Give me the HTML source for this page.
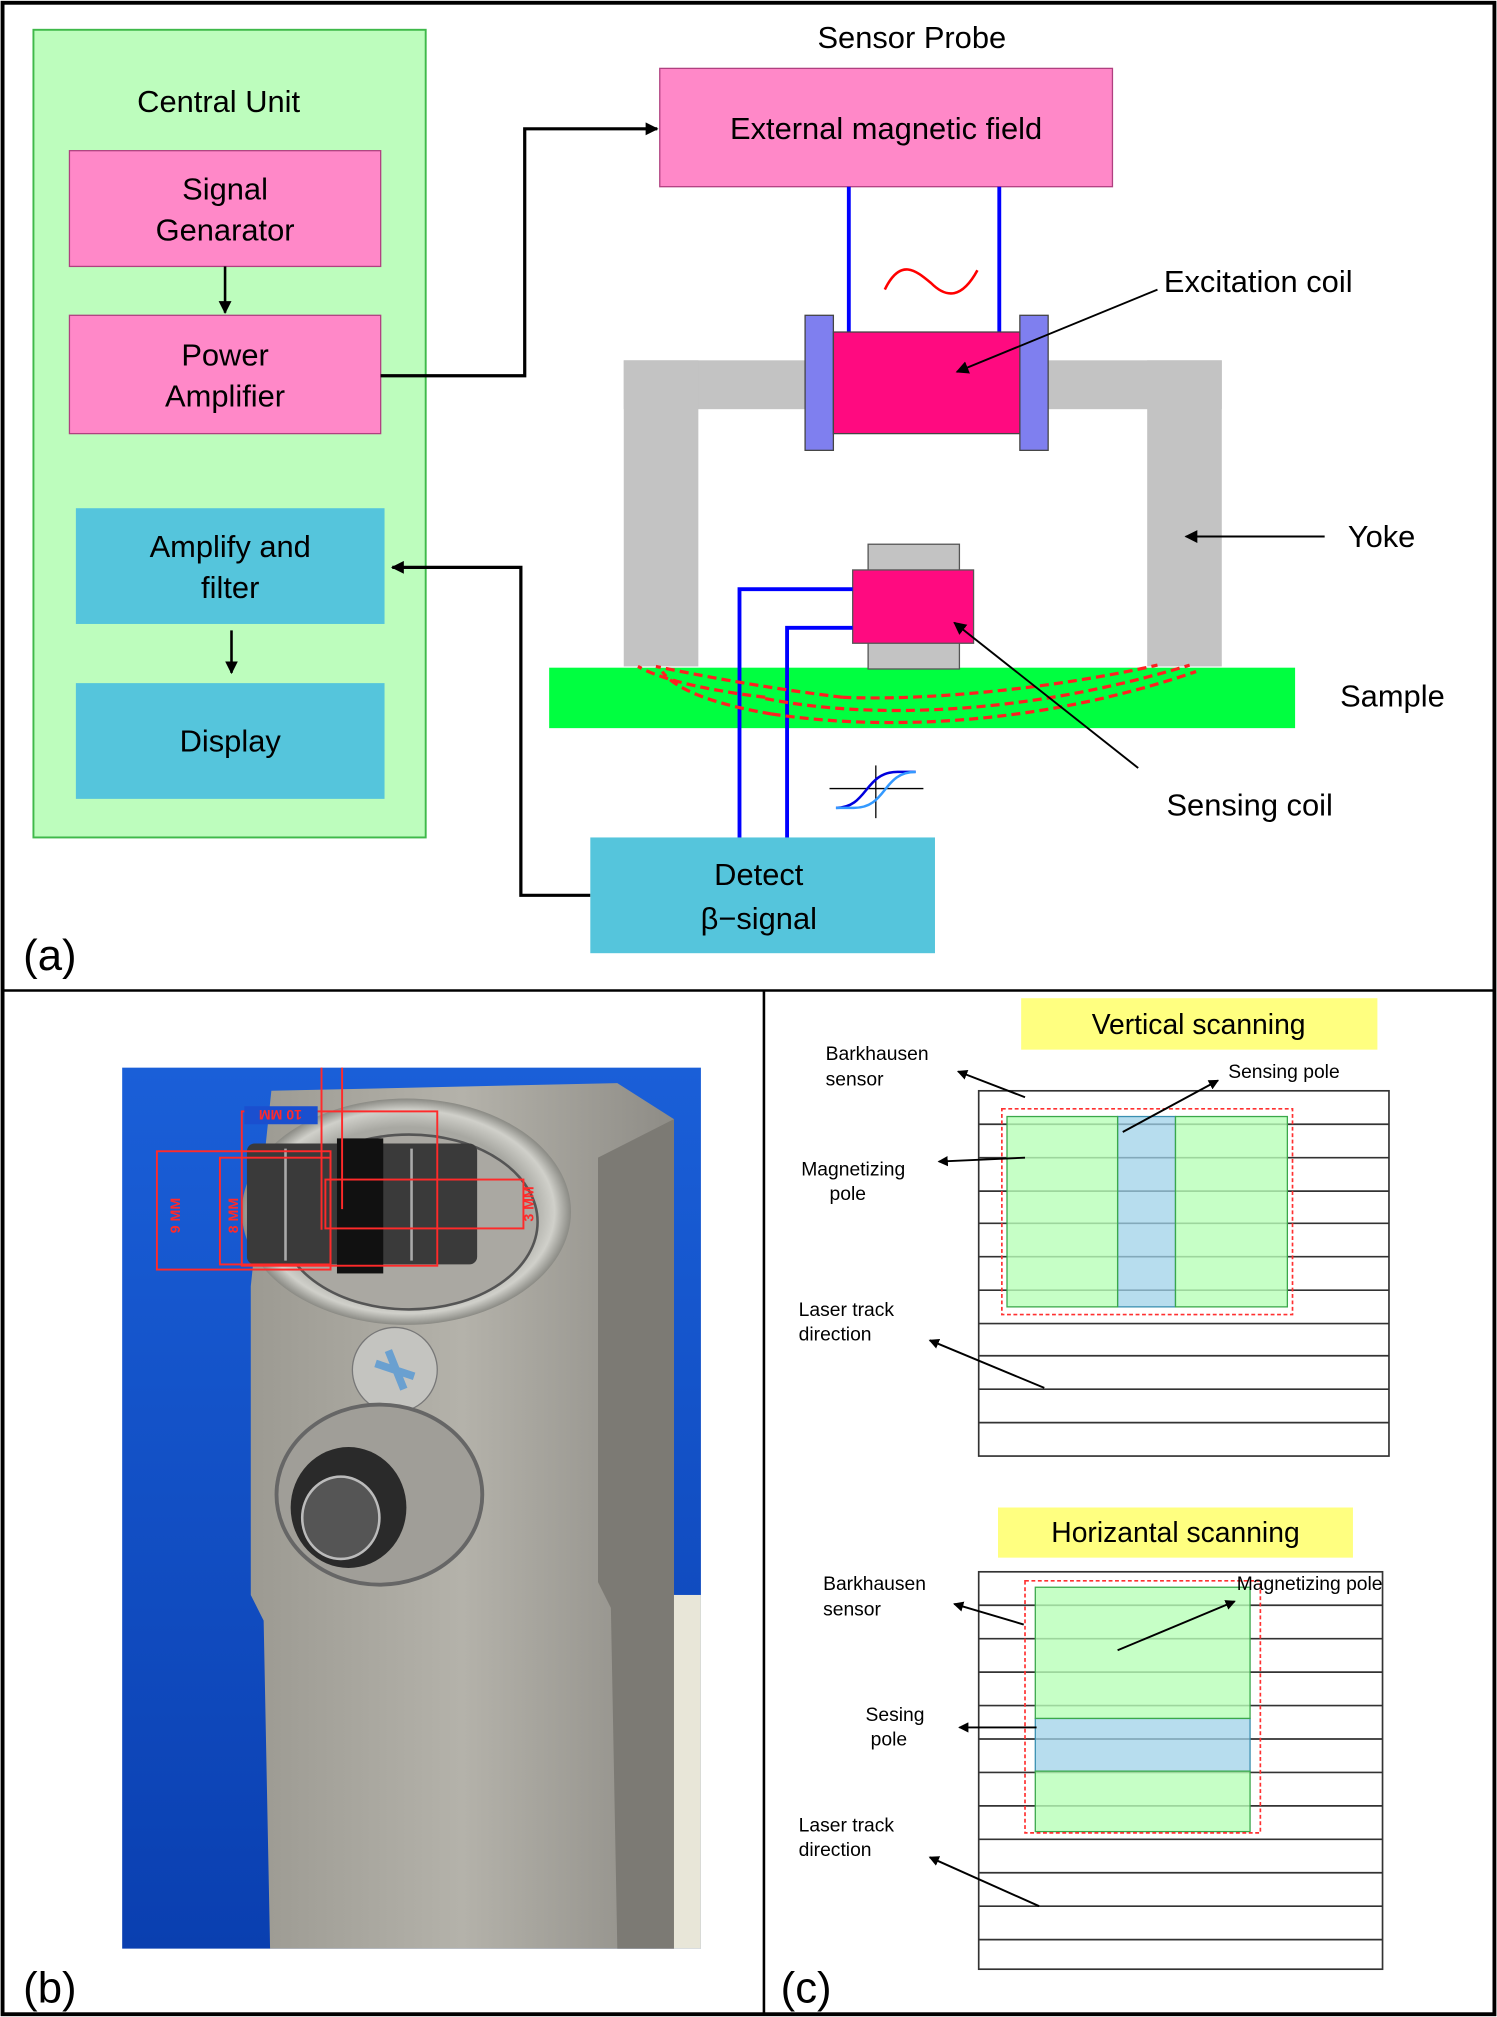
<!DOCTYPE html>
<html><head><meta charset="utf-8"><style>
html,body{margin:0;padding:0;background:#fff}
svg{display:block}
text{font-family:"Liberation Sans",sans-serif;fill:#000}
</style></head><body>
<svg width="1497" height="2017" viewBox="0 0 1164 1568" xmlns="http://www.w3.org/2000/svg">
<defs>
<marker id="ah" markerWidth="10" markerHeight="10" refX="9" refY="5" orient="auto" markerUnits="userSpaceOnUse"><path d="M0,0 L10,5 L0,10 z" fill="#000"/></marker>
<marker id="as" markerWidth="8" markerHeight="8" refX="7" refY="4" orient="auto" markerUnits="userSpaceOnUse"><path d="M0,0 L8,4 L0,8 z" fill="#000"/></marker>
<radialGradient id="ring" cx="50%" cy="50%" r="50%"><stop offset="0.75" stop-color="#a8a8a2"/><stop offset="0.9" stop-color="#d0d0ca"/><stop offset="1" stop-color="#8a8a84"/></radialGradient>
<linearGradient id="blk" x1="0" x2="1"><stop offset="0" stop-color="#9c9a92"/><stop offset="0.5" stop-color="#b4b2aa"/><stop offset="1" stop-color="#8e8c86"/></linearGradient>
<linearGradient id="bg" x1="0" y1="0" x2="0" y2="1"><stop offset="0" stop-color="#1a5fd8"/><stop offset="1" stop-color="#0a3fb0"/></linearGradient>
</defs>
<rect x="2" y="2" width="1160" height="1564" fill="#fff" stroke="#000" stroke-width="3"/>
<line x1="2" y1="770" x2="1162" y2="770" stroke="#000" stroke-width="2"/>
<line x1="594" y1="770" x2="594" y2="1566" stroke="#000" stroke-width="2"/>

<!-- Panel a -->
<rect x="26" y="23" width="305" height="628" fill="#bdfdbd" stroke="#3fb94a" stroke-width="1.5"/>
<text x="170" y="87" font-size="24" text-anchor="middle">Central Unit</text>
<rect x="54" y="117" width="242" height="90" fill="#ff88c8" stroke="#b04080"/>
<text x="175" y="155" font-size="24" text-anchor="middle">Signal</text>
<text x="175" y="187" font-size="24" text-anchor="middle">Genarator</text>
<line x1="175" y1="207" x2="175" y2="243" stroke="#000" stroke-width="2" marker-end="url(#ah)"/>
<rect x="54" y="245" width="242" height="92" fill="#ff88c8" stroke="#b04080"/>
<text x="175" y="284" font-size="24" text-anchor="middle">Power</text>
<text x="175" y="316" font-size="24" text-anchor="middle">Amplifier</text>
<rect x="59" y="395" width="240" height="90" fill="#55c5dc"/>
<text x="179" y="433" font-size="24" text-anchor="middle">Amplify and</text>
<text x="179" y="465" font-size="24" text-anchor="middle">filter</text>
<line x1="180" y1="490" x2="180" y2="523" stroke="#000" stroke-width="2" marker-end="url(#ah)"/>
<rect x="59" y="531" width="240" height="90" fill="#55c5dc"/>
<text x="179" y="584" font-size="24" text-anchor="middle">Display</text>

<polyline points="296,292 408,292 408,100 511,100" fill="none" stroke="#000" stroke-width="2.5" marker-end="url(#ah)"/>
<polyline points="459,696 405,696 405,441 305,441" fill="none" stroke="#000" stroke-width="2.5" marker-end="url(#ah)"/>

<text x="709" y="37" font-size="24" text-anchor="middle">Sensor Probe</text>
<rect x="513" y="53" width="352" height="92" fill="#ff88c8" stroke="#b04080"/>
<text x="689" y="108" font-size="24" text-anchor="middle">External magnetic field</text>
<line x1="660" y1="145" x2="660" y2="260" stroke="#0000ff" stroke-width="3"/>
<line x1="777" y1="145" x2="777" y2="260" stroke="#0000ff" stroke-width="3"/>
<path d="M688,225 C700,200 712,210 724,220 C736,232 748,232 760,210" fill="none" stroke="#ff0000" stroke-width="2"/>

<rect x="485" y="280" width="465" height="38" fill="#c3c3c3"/>
<rect x="485" y="280" width="58" height="238" fill="#c3c3c3"/>
<rect x="892" y="280" width="58" height="238" fill="#c3c3c3"/>
<rect x="626" y="245" width="22" height="105" fill="#7f7fef" stroke="#444"/>
<rect x="793" y="245" width="22" height="105" fill="#7f7fef" stroke="#444"/>
<rect x="648" y="258" width="145" height="79" fill="#ff0a80" stroke="#444"/>
<text x="905" y="227" font-size="24">Excitation coil</text>
<line x1="900" y1="225" x2="744" y2="289" stroke="#000" stroke-width="1.5" marker-end="url(#ah)"/>
<text x="1048" y="425" font-size="24">Yoke</text>
<line x1="1030" y1="417" x2="922" y2="417" stroke="#000" stroke-width="1.5" marker-end="url(#ah)"/>

<rect x="427" y="519" width="580" height="47" fill="#00ff40"/>
<text x="1042" y="549" font-size="24">Sample</text>
<rect x="675" y="423" width="71" height="97" fill="#c3c3c3" stroke="#555"/>
<rect x="663" y="443" width="94" height="57" fill="#ff0a80" stroke="#555"/>
<polyline points="663,458 575,458 575,652" fill="none" stroke="#0000ff" stroke-width="3"/>
<polyline points="663,488 612,488 612,652" fill="none" stroke="#0000ff" stroke-width="3"/>
<g fill="none" stroke="#ff2020" stroke-width="2.5" stroke-dasharray="7,4">
<path d="M655,542 C580,533 520,520 510,518"/>
<path d="M655,542 C720,545 820,535 900,517"/>
<path d="M595,542 C520,533 500,520 496,518"/>
<path d="M595,543 C680,560 800,555 925,517"/>
<path d="M600,555 C540,545 520,530 515,522"/>
<path d="M600,555 C700,570 820,560 930,522"/>
</g>
<g>
<line x1="645" y1="613" x2="718" y2="613" stroke="#000" stroke-width="1"/>
<line x1="681" y1="595" x2="681" y2="636" stroke="#000" stroke-width="1"/>
<path d="M650,628 C675,628 672,600 698,600 L712,600" fill="none" stroke="#0000dd" stroke-width="2"/>
<path d="M650,628 L664,628 C690,628 686,600 712,600" fill="none" stroke="#3399ff" stroke-width="2"/>
</g>
<text x="907" y="634" font-size="24">Sensing coil</text>
<line x1="885" y1="597" x2="742" y2="484" stroke="#000" stroke-width="1.5" marker-end="url(#ah)"/>
<rect x="459" y="651" width="268" height="90" fill="#55c5dc"/>
<text x="590" y="688" font-size="24" text-anchor="middle">Detect</text>
<text x="590" y="722" font-size="24" text-anchor="middle">β−signal</text>
<text x="18" y="754" font-size="34">(a)</text>

<!-- Panel b photo -->
<rect x="95" y="830" width="450" height="685" fill="url(#bg)"/>
<rect x="510" y="1240" width="35" height="275" fill="#e8e6d8"/>
<polygon points="211,848 480,842 524,870 524,1515 210,1515 205,1260 195,1240 195,1000" fill="url(#blk)"/>
<polygon points="465,900 524,870 524,1515 480,1515 475,1250 465,1230" fill="#7c7a74"/>
<ellipse cx="316" cy="942" rx="128" ry="88" fill="url(#ring)"/>
<ellipse cx="318" cy="950" rx="100" ry="68" fill="#aaa8a2" stroke="#555" stroke-width="2"/>
<rect x="192" y="889" width="179" height="94" rx="6" fill="#3a3a3a"/>
<rect x="262" y="885" width="36" height="105" fill="#111"/>
<line x1="222" y1="893" x2="222" y2="980" stroke="#aaa" stroke-width="2"/>
<line x1="320" y1="893" x2="320" y2="980" stroke="#aaa" stroke-width="2"/>
<g fill="none" stroke="#ff2a2a" stroke-width="1.5">
<rect x="122" y="895" width="135" height="92"/>
<rect x="171" y="900" width="86" height="83"/>
<rect x="253" y="917" width="154" height="38"/>
<line x1="250" y1="830" x2="250" y2="956"/>
<line x1="266" y1="830" x2="266" y2="940"/>
<rect x="188" y="864" width="152" height="120"/>
</g>
<rect x="190" y="860" width="57" height="14" fill="#1a4fcf"/>
<text x="218" y="871" font-size="11" font-weight="bold" style="fill:#ff2a2a" transform="rotate(180 218 867)" text-anchor="middle">10 MM</text>
<text x="140" y="945" font-size="11" font-weight="bold" style="fill:#ff2a2a" transform="rotate(-90 140 945)" text-anchor="middle">9 MM</text>
<text x="185" y="945" font-size="11" font-weight="bold" style="fill:#ff2a2a" transform="rotate(-90 185 945)" text-anchor="middle">8 MM</text>
<text x="415" y="936" font-size="11" font-weight="bold" style="fill:#ff2a2a" transform="rotate(-90 415 936)" text-anchor="middle">3 MM</text>
<circle cx="307" cy="1065" r="33" fill="#c4c4c0" stroke="#777"/>
<path d="M292,1060 L322,1070 M302,1050 L314,1080" stroke="#6aa0d0" stroke-width="6"/>
<ellipse cx="295" cy="1162" rx="80" ry="70" fill="#a09e98" stroke="#666" stroke-width="3"/>
<ellipse cx="271" cy="1172" rx="45" ry="47" fill="#2a2a2a"/>
<ellipse cx="265" cy="1180" rx="30" ry="32" fill="#555" stroke="#bbb" stroke-width="2"/>
<text x="18" y="1557" font-size="34">(b)</text>

<!-- Panel c vertical -->
<rect x="794" y="776" width="277" height="40" fill="#ffff80"/>
<text x="932" y="804" font-size="22" text-anchor="middle">Vertical scanning</text>
<g stroke="#333" stroke-width="1.3">
<rect x="761" y="848" width="319" height="284" fill="#fff"/>
<line x1="761" y1="874" x2="1080" y2="874"/><line x1="761" y1="900" x2="1080" y2="900"/>
<line x1="761" y1="926" x2="1080" y2="926"/><line x1="761" y1="951" x2="1080" y2="951"/>
<line x1="761" y1="977" x2="1080" y2="977"/><line x1="761" y1="1003" x2="1080" y2="1003"/>
<line x1="761" y1="1029" x2="1080" y2="1029"/><line x1="761" y1="1054" x2="1080" y2="1054"/>
<line x1="761" y1="1080" x2="1080" y2="1080"/><line x1="761" y1="1106" x2="1080" y2="1106"/>
</g>
<rect x="869" y="868" width="45" height="148" fill="#9fd2e8" fill-opacity="0.75" stroke="#3a8fb0"/>
<rect x="783" y="868" width="86" height="148" fill="#b8ffb8" fill-opacity="0.8" stroke="#3aa84a"/>
<rect x="914" y="868" width="87" height="148" fill="#b8ffb8" fill-opacity="0.8" stroke="#3aa84a"/>
<rect x="779" y="862" width="226" height="160" fill="none" stroke="#ff3030" stroke-width="1.3" stroke-dasharray="3,2"/>
<text x="642" y="824" font-size="15">Barkhausen</text><text x="642" y="844" font-size="15">sensor</text>
<line x1="797" y1="853" x2="745" y2="833" stroke="#000" stroke-width="1.5" marker-end="url(#as)"/>
<text x="955" y="838" font-size="15">Sensing pole</text>
<line x1="873" y1="880" x2="947" y2="840" stroke="#000" stroke-width="1.5" marker-end="url(#as)"/>
<text x="623" y="914" font-size="15">Magnetizing</text><text x="645" y="933" font-size="15">pole</text>
<line x1="797" y1="900" x2="730" y2="903" stroke="#000" stroke-width="1.5" marker-end="url(#as)"/>
<text x="621" y="1023" font-size="15">Laser track</text><text x="621" y="1042" font-size="15">direction</text>
<line x1="812" y1="1079" x2="723" y2="1042" stroke="#000" stroke-width="1.5" marker-end="url(#as)"/>

<!-- Panel c horizontal -->
<rect x="776" y="1172" width="276" height="39" fill="#ffff80"/>
<text x="914" y="1199" font-size="22" text-anchor="middle">Horizantal scanning</text>
<g stroke="#333" stroke-width="1.3">
<rect x="761" y="1222" width="314" height="309" fill="#fff"/>
<line x1="761" y1="1248" x2="1075" y2="1248"/><line x1="761" y1="1274" x2="1075" y2="1274"/>
<line x1="761" y1="1300" x2="1075" y2="1300"/><line x1="761" y1="1326" x2="1075" y2="1326"/>
<line x1="761" y1="1352" x2="1075" y2="1352"/><line x1="761" y1="1378" x2="1075" y2="1378"/>
<line x1="761" y1="1404" x2="1075" y2="1404"/><line x1="761" y1="1430" x2="1075" y2="1430"/>
<line x1="761" y1="1456" x2="1075" y2="1456"/><line x1="761" y1="1482" x2="1075" y2="1482"/>
<line x1="761" y1="1508" x2="1075" y2="1508"/>
</g>
<rect x="805" y="1336" width="167" height="41" fill="#9fd2e8" fill-opacity="0.75" stroke="#3a8fb0"/>
<rect x="805" y="1234" width="167" height="102" fill="#b8ffb8" fill-opacity="0.8" stroke="#3aa84a"/>
<rect x="805" y="1377" width="167" height="47" fill="#b8ffb8" fill-opacity="0.8" stroke="#3aa84a"/>
<rect x="797" y="1229" width="183" height="196" fill="none" stroke="#ff3030" stroke-width="1.3" stroke-dasharray="3,2"/>
<text x="640" y="1236" font-size="15">Barkhausen</text><text x="640" y="1256" font-size="15">sensor</text>
<line x1="796" y1="1263" x2="742" y2="1247" stroke="#000" stroke-width="1.5" marker-end="url(#as)"/>
<text x="1075" y="1236" font-size="15" text-anchor="end">Magnetizing pole</text>
<line x1="869" y1="1283" x2="960" y2="1245" stroke="#000" stroke-width="1.5" marker-end="url(#as)"/>
<text x="673" y="1338" font-size="15">Sesing</text><text x="677" y="1357" font-size="15">pole</text>
<line x1="806" y1="1343" x2="746" y2="1343" stroke="#000" stroke-width="1.5" marker-end="url(#as)"/>
<text x="621" y="1424" font-size="15">Laser track</text><text x="621" y="1443" font-size="15">direction</text>
<line x1="808" y1="1482" x2="723" y2="1444" stroke="#000" stroke-width="1.5" marker-end="url(#as)"/>
<text x="607" y="1557" font-size="34">(c)</text>
</svg>
</body></html>
